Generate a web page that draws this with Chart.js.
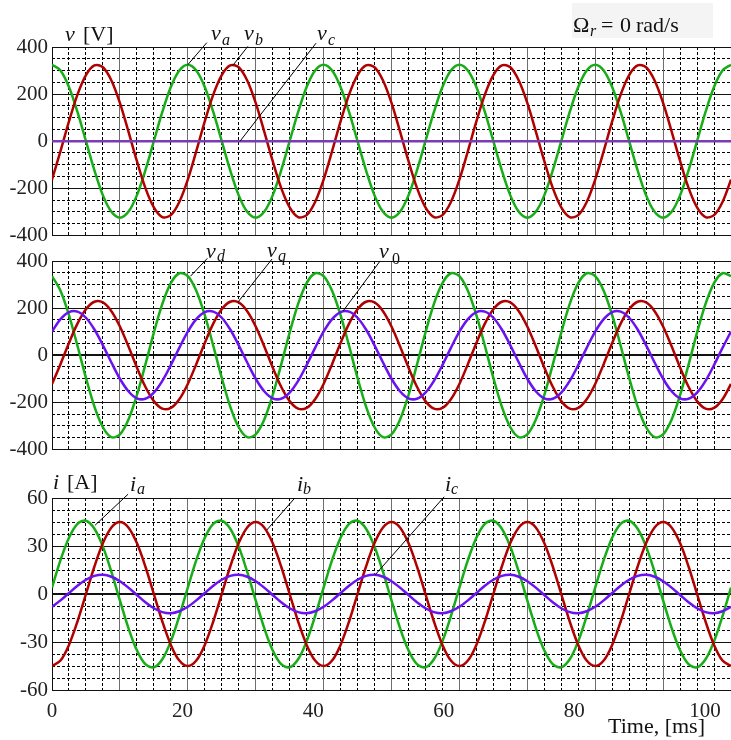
<!DOCTYPE html>
<html>
<head>
<meta charset="utf-8">
<script src="https://cdn.jsdelivr.net/npm/chart.js@4.4.1/dist/chart.umd.min.js"></script>
<style>
  html, body { margin: 0; padding: 0; background: #fff; }
  #wrap { position: relative; width: 731px; height: 740px; overflow: hidden; }
  canvas { position: absolute; left: 0; }
</style>
</head>
<body>
<div id="wrap">
  <canvas id="c1" width="731" height="252" style="top:0px"></canvas>
  <canvas id="c2" width="731" height="226" style="top:240px"></canvas>
  <canvas id="c3" width="731" height="274" style="top:466px"></canvas>
</div>
<script>
'use strict';

// time samples [ms]
const timeMs = [0, 1.3, 2.6, 3.9, 5.2, 6.5, 7.8, 9.1, 10.4, 11.7, 13, 14.3, 15.6, 16.9, 18.2, 19.5,
  20.8, 22.1, 23.4, 24.7, 26, 27.3, 28.6, 29.9, 31.2, 32.5, 33.8, 35.1, 36.4, 37.7, 39, 40.3,
  41.6, 42.9, 44.2, 45.5, 46.8, 48.1, 49.4, 50.7, 52, 53.3, 54.6, 55.9, 57.2, 58.5, 59.8, 61.1,
  62.4, 63.7, 65, 66.3, 67.6, 68.9, 70.2, 71.5, 72.8, 74.1, 75.4, 76.7, 78, 79.3, 80.6, 81.9,
  83.2, 84.5, 85.8, 87.1, 88.4, 89.7, 91, 92.3, 93.6, 94.9, 96.2, 97.5, 98.8, 100.1, 101.4, 102.7, 104];

// phase voltages [V]
const va = [325, 300, 230, 124, 0, -124, -230, -300, -325, -300, -230, -124, 0, 124, 230, 300,
  325, 300, 230, 124, 0, -124, -230, -300, -325, -300, -230, -124, 0, 124, 230, 300,
  325, 300, 230, 124, 0, -124, -230, -300, -325, -300, -230, -124, 0, 124, 230, 300,
  325, 300, 230, 124, 0, -124, -230, -300, -325, -300, -230, -124, 0, 124, 230, 300,
  325, 300, 230, 124, 0, -124, -230, -300, -325, -300, -230, -124, 0, 124, 230, 300, 325];
const vb = [-163, -42, 84, 198, 281, 322, 314, 258, 163, 42, -84, -198, -281, -322, -314, -258,
  -163, -42, 84, 198, 281, 322, 314, 258, 163, 42, -84, -198, -281, -322, -314, -258,
  -163, -42, 84, 198, 281, 322, 314, 258, 163, 42, -84, -198, -281, -322, -314, -258,
  -163, -42, 84, 198, 281, 322, 314, 258, 163, 42, -84, -198, -281, -322, -314, -258,
  -163, -42, 84, 198, 281, 322, 314, 258, 163, 42, -84, -198, -281, -322, -314, -258, -163];
const vc = [0, 0, 0, 0, 0, 0, 0, 0, 0, 0, 0, 0, 0, 0, 0, 0, 0, 0, 0, 0,
  0, 0, 0, 0, 0, 0, 0, 0, 0, 0, 0, 0, 0, 0, 0, 0, 0, 0, 0, 0,
  0, 0, 0, 0, 0, 0, 0, 0, 0, 0, 0, 0, 0, 0, 0, 0, 0, 0, 0, 0,
  0, 0, 0, 0, 0, 0, 0, 0, 0, 0, 0, 0, 0, 0, 0, 0, 0, 0, 0, 0, 0];

// dq0 voltages [V]
const vd = [336, 274, 170, 40, -96, -218, -306, -348, -336, -274, -170, -40, 96, 218, 306, 348,
  336, 274, 170, 40, -96, -218, -306, -348, -336, -274, -170, -40, 96, 218, 306, 348,
  336, 274, 170, 40, -96, -218, -306, -348, -336, -274, -170, -40, 96, 218, 306, 348,
  336, 274, 170, 40, -96, -218, -306, -348, -336, -274, -170, -40, 96, 218, 306, 348,
  336, 274, 170, 40, -96, -218, -306, -348, -336, -274, -170, -40, 96, 218, 306, 348, 336];
const vq = [-122, -38, 52, 134, 195, 227, 224, 187, 122, 38, -52, -134, -195, -227, -224, -187,
  -122, -38, 52, 134, 195, 227, 224, 187, 122, 38, -52, -134, -195, -227, -224, -187,
  -122, -38, 52, 134, 195, 227, 224, 187, 122, 38, -52, -134, -195, -227, -224, -187,
  -122, -38, 52, 134, 195, 227, 224, 187, 122, 38, -52, -134, -195, -227, -224, -187,
  -122, -38, 52, 134, 195, 227, 224, 187, 122, 38, -52, -134, -195, -227, -224, -187, -122];
const v0 = [100, 153, 183, 185, 159, 109, 42, -31, -100, -153, -183, -185, -159, -109, -42, 31,
  100, 153, 183, 185, 159, 109, 42, -31, -100, -153, -183, -185, -159, -109, -42, 31,
  100, 153, 183, 185, 159, 109, 42, -31, -100, -153, -183, -185, -159, -109, -42, 31,
  100, 153, 183, 185, 159, 109, 42, -31, -100, -153, -183, -185, -159, -109, -42, 31,
  100, 153, 183, 185, 159, 109, 42, -31, -100, -153, -183, -185, -159, -109, -42, 31, 100];

// phase currents [A]
const ia = [4.0, 21.2, 35.2, 43.9, 45.8, 40.8, 29.6, 13.8, -4.0, -21.2, -35.2, -43.9, -45.8, -40.8, -29.6, -13.8,
  4.0, 21.2, 35.2, 43.9, 45.8, 40.8, 29.6, 13.8, -4.0, -21.2, -35.2, -43.9, -45.8, -40.8, -29.6, -13.8,
  4.0, 21.2, 35.2, 43.9, 45.8, 40.8, 29.6, 13.8, -4.0, -21.2, -35.2, -43.9, -45.8, -40.8, -29.6, -13.8,
  4.0, 21.2, 35.2, 43.9, 45.8, 40.8, 29.6, 13.8, -4.0, -21.2, -35.2, -43.9, -45.8, -40.8, -29.6, -13.8,
  4.0, 21.2, 35.2, 43.9, 45.8, 40.8, 29.6, 13.8, -4.0, -21.2, -35.2, -43.9, -45.8, -40.8, -29.6, -13.8, 4.0];
const ib = [-45, -41.6, -31.8, -17.2, 0, 17.2, 31.8, 41.6, 45, 41.6, 31.8, 17.2, 0, -17.2, -31.8, -41.6,
  -45, -41.6, -31.8, -17.2, 0, 17.2, 31.8, 41.6, 45, 41.6, 31.8, 17.2, 0, -17.2, -31.8, -41.6,
  -45, -41.6, -31.8, -17.2, 0, 17.2, 31.8, 41.6, 45, 41.6, 31.8, 17.2, 0, -17.2, -31.8, -41.6,
  -45, -41.6, -31.8, -17.2, 0, 17.2, 31.8, 41.6, 45, 41.6, 31.8, 17.2, 0, -17.2, -31.8, -41.6,
  -45, -41.6, -31.8, -17.2, 0, 17.2, 31.8, 41.6, 45, 41.6, 31.8, 17.2, 0, -17.2, -31.8, -41.6, -45];
const ic = [-8.0, -4.0, 0.6, 5.2, 8.9, 11.3, 12.0, 10.8, 8.0, 4.0, -0.6, -5.2, -8.9, -11.3, -12.0, -10.8,
  -8.0, -4.0, 0.6, 5.2, 8.9, 11.3, 12.0, 10.8, 8.0, 4.0, -0.6, -5.2, -8.9, -11.3, -12.0, -10.8,
  -8.0, -4.0, 0.6, 5.2, 8.9, 11.3, 12.0, 10.8, 8.0, 4.0, -0.6, -5.2, -8.9, -11.3, -12.0, -10.8,
  -8.0, -4.0, 0.6, 5.2, 8.9, 11.3, 12.0, 10.8, 8.0, 4.0, -0.6, -5.2, -8.9, -11.3, -12.0, -10.8,
  -8.0, -4.0, 0.6, 5.2, 8.9, 11.3, 12.0, 10.8, 8.0, 4.0, -0.6, -5.2, -8.9, -11.3, -12.0, -10.8, -8.0];

// tick labels
const timeTicks = [0, 20, 40, 60, 80, 100];
const voltTicks = [-400, -200, 0, 200, 400];
const ampTicks = [-60, -30, 0, 30, 60];

const GREEN = '#16ad16';
const RED = '#b00000';
const PURPLE = '#7a3cb4';
const VIOLET = '#6a12f2';
const SERIF = '"Liberation Serif", "Times New Roman", serif';

const X_MAX = 104;

// grid positions (scope-like grid: 10 major divisions, 4 minor each)
function gridSteps(min, max, step, every) {
  const major = [], minor = [];
  const n = Math.round((max - min) / step);
  for (let i = 0; i <= n; i++) {
    const v = +(min + i * step).toFixed(4);
    (i % every === 0 ? major : minor).push(v);
  }
  return { major, minor };
}

function gridAxis(pos, min, max, vals, color, dash) {
  return {
    type: 'linear', position: pos, min: min, max: max,
    ticks: { display: false },
    grid: { color: color, lineWidth: 1, drawTicks: false },
    border: { display: false, dash: dash },
    afterBuildTicks: a => { a.ticks = vals.map(v => ({ value: v })); },
    afterFit: a => { if (pos === 'bottom') a.height = 0; else a.width = 0; }
  };
}

// text + leader lines drawn on top of the chart
const notesPlugin = {
  id: 'notes',
  afterDatasetsDraw(chart, args, opts) {
    const ctx = chart.ctx;
    const xs = chart.scales.x, ys = chart.scales.y;
    ctx.save();
    if (opts.box) {
      ctx.fillStyle = '#f4f4f4';
      ctx.fillRect(opts.box[0], opts.box[1], opts.box[2], opts.box[3]);
    }
    ctx.strokeStyle = '#000';
    ctx.lineWidth = 1;
    (opts.leaders || []).forEach(n => {
      const px = xs.getPixelForValue(n.at[0]);
      const py = ys.getPixelForValue(n.at[1]);
      ctx.beginPath();
      ctx.moveTo(px, py);
      ctx.lineTo(px + n.dx, py + n.dy);
      ctx.stroke();
    });
    ctx.fillStyle = '#111';
    ctx.textBaseline = 'alphabetic';
    (opts.texts || []).forEach(t => {
      ctx.font = (t.it ? 'italic ' : '') + t.size + 'px ' + SERIF;
      ctx.fillText(t.s, t.x, t.y);
    });
    ctx.restore();
  }
};

function line(label, values, color) {
  return {
    label: label,
    data: timeMs.map((t, i) => ({ x: t, y: values[i] })),
    borderColor: color,
    borderWidth: 2.5,
    pointRadius: 0,
    tension: 0.33,
    fill: false,
    xAxisID: 'x', yAxisID: 'y'
  };
}

function createPanel(el, datasets, yMin, yMax, yTicks, yStep, pad, showTime, notes) {
  const gx = gridSteps(0, X_MAX, 2.6, 4);
  const gy = gridSteps(yMin, yMax, yStep, 4);
  return new Chart(document.getElementById(el), {
    type: 'line',
    data: { datasets: datasets },
    plugins: [notesPlugin],
    options: {
      responsive: false,
      animation: false,
      events: [],
      layout: { padding: { top: pad[0], bottom: pad[1], left: 0, right: 0 } },
      scales: {
        xMinor: gridAxis('bottom', 0, X_MAX, gx.minor, '#000', [3, 2]),
        yMinor: gridAxis('left', yMin, yMax, gy.minor, '#000', [3, 2]),
        xMajor: gridAxis('bottom', 0, X_MAX, gx.major, '#6e6e6e', []),
        x: {
          type: 'linear', position: 'bottom', min: 0, max: X_MAX,
          grid: { display: false, drawTicks: false },
          border: { display: false },
          ticks: {
            display: showTime,
            color: '#222', padding: 9,
            font: { family: SERIF, size: 21 }
          },
          afterBuildTicks: a => { a.ticks = timeTicks.map(v => ({ value: v })); },
          afterFit: a => { a.height = showTime ? 50 : 0; }
        },
        y: {
          type: 'linear', position: 'left', min: yMin, max: yMax,
          grid: {
            color: '#111', drawTicks: false,
            lineWidth: c => (c.tick && c.tick.value === 0 ? 2 : 1)
          },
          border: { display: true, color: '#111', width: 1 },
          ticks: {
            color: '#222', padding: 4,
            font: { family: SERIF, size: 21 }
          },
          afterBuildTicks: a => { a.ticks = yTicks.map(v => ({ value: v })); },
          afterFit: a => { a.width = 52; }
        }
      },
      plugins: {
        legend: { display: false },
        tooltip: { enabled: false },
        title: { display: false },
        notes: notes
      }
    }
  });
}

// panel 1: phase voltages
createPanel('c1', [line('v_c', vc, PURPLE), line('v_b', vb, RED), line('v_a', va, GREEN)],
  -400, 400, voltTicks, 50, [47, 13], false, {
    box: [572, 3, 141, 35],
    leaders: [
      { at: [20.8, 325], dx: 19, dy: -22 },
      { at: [27.7, 322], dx: 15, dy: -19 },
      { at: [28.8, 0], dx: 76, dy: -98 }
    ],
    texts: [
      { s: 'v', x: 65, y: 41, it: true, size: 22 },
      { s: '[V]', x: 83, y: 41, size: 22 },
      { s: 'v', x: 211, y: 40, it: true, size: 22 }, { s: 'a', x: 222, y: 45, it: true, size: 16 },
      { s: 'v', x: 244, y: 40, it: true, size: 22 }, { s: 'b', x: 255, y: 45, it: true, size: 16 },
      { s: 'v', x: 317, y: 40, it: true, size: 22 }, { s: 'c', x: 328, y: 45, it: true, size: 16 },
      { s: '\u03A9', x: 573, y: 32, size: 22 }, { s: 'r', x: 590, y: 36, it: true, size: 16 },
      { s: '=', x: 601, y: 32, size: 22 }, { s: '0', x: 620, y: 32, size: 22 },
      { s: 'rad/s', x: 636, y: 32, size: 22 }
    ]
  });

// panel 2: dq0 voltages
createPanel('c2', [line('v_0', v0, VIOLET), line('v_q', vq, RED), line('v_d', vd, GREEN)],
  -400, 400, voltTicks, 50, [21, 14], false, {
    leaders: [
      { at: [21.2, 335], dx: 17, dy: -18 },
      { at: [28.5, 226], dx: 34, dy: -43 },
      { at: [44.6, 188], dx: 37, dy: -50 }
    ],
    texts: [
      { s: 'v', x: 206, y: 18, it: true, size: 22 }, { s: 'd', x: 217, y: 21, it: true, size: 16 },
      { s: 'v', x: 267, y: 17, it: true, size: 22 }, { s: 'q', x: 278, y: 21, it: true, size: 16 },
      { s: 'v', x: 379, y: 18, it: true, size: 22 }, { s: '0', x: 392, y: 24, size: 16 }
    ]
  });

// panel 3: phase currents
createPanel('c3', [line('i_c', ic, VIOLET), line('i_b', ib, RED), line('i_a', ia, GREEN)],
  -60, 60, ampTicks, 7.5, [32, 0], true, {
    leaders: [
      { at: [6.6, 43], dx: 33, dy: -31 },
      { at: [32.9, 40], dx: 28, dy: -32 },
      { at: [49.5, 12], dx: 69, dy: -78 }
    ],
    texts: [
      { s: 'i', x: 53, y: 23, it: true, size: 22 },
      { s: '[A]', x: 67, y: 23, size: 22 },
      { s: 'i', x: 130, y: 25, it: true, size: 22 }, { s: 'a', x: 137, y: 28, it: true, size: 16 },
      { s: 'i', x: 297, y: 25, it: true, size: 22 }, { s: 'b', x: 303, y: 28, it: true, size: 16 },
      { s: 'i', x: 445, y: 25, it: true, size: 22 }, { s: 'c', x: 451, y: 28, it: true, size: 16 },
      { s: 'Time, [ms]', x: 608, y: 267, size: 22 }
    ]
  });
</script>
</body>
</html>
